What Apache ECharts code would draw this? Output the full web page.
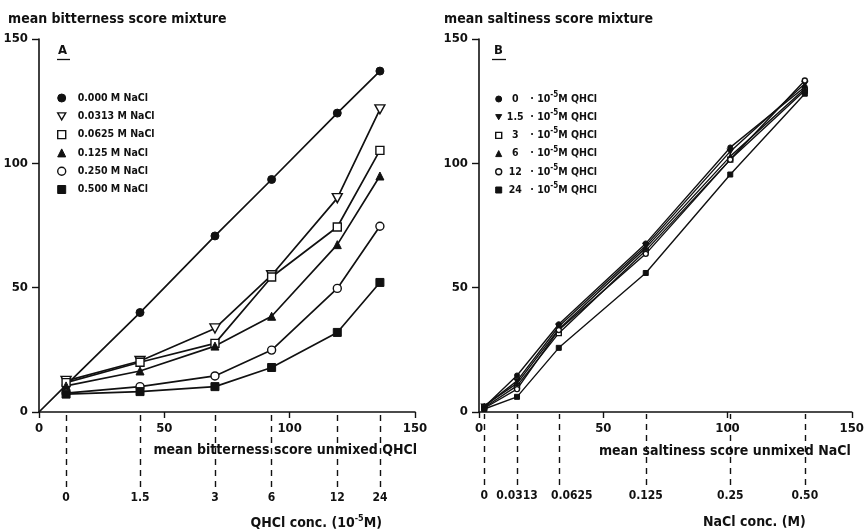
<!DOCTYPE html>
<html>
<head>
<meta charset="utf-8">
<script src="https://cdn.jsdelivr.net/npm/echarts@6/dist/echarts.min.js"></script>
<style>
html, body { margin: 0; padding: 0; background: #fff; }
#chart { width: 867px; height: 531px; }
</style>
</head>
<body>
<div id="chart"></div>
<script>
// ---- Panel A: bitterness of QHCl in NaCl mixtures ----
const qhclConcLabels = ['0', '1.5', '3', '6', '12', '24'];
// mean bitterness score of unmixed QHCl at each concentration (x positions)
const bitterUnmixed = [10.8, 40.3, 70.2, 92.8, 119.0, 136.0];
const bitterNames = ['0.000 M NaCl', '0.0313 M NaCl', '0.0625 M NaCl', '0.125 M NaCl', '0.250 M NaCl', '0.500 M NaCl'];
const bitterNaCl0000 = [10.8, 40.0, 70.8, 93.5, 120.2, 137.1];
const bitterNaCl0313 = [12.5, 20.5, 33.6, 55.0, 86.0, 121.7];
const bitterNaCl0625 = [11.8, 20.0, 27.6, 54.3, 74.4, 105.2];
const bitterNaCl1250 = [10.5, 16.5, 26.5, 38.5, 67.3, 94.9];
const bitterNaCl2500 = [7.6, 10.2, 14.5, 24.9, 49.7, 74.7];
const bitterNaCl5000 = [7.2, 8.2, 10.2, 17.9, 32.0, 52.1];

// ---- Panel B: saltiness of NaCl in QHCl mixtures ----
const naclConcLabels = ['0', '0.0313', '0.0625', '0.125', '0.25', '0.50'];
// mean saltiness score of unmixed NaCl at each concentration (x positions)
const saltUnmixed = [2.1, 15.3, 32.1, 67.1, 101.1, 131.1];
const saltNames = ['0', '1.5', '3', '6', '12', '24'];
const saltQHCl0 = [2.0, 14.7, 35.3, 67.8, 106.4, 130.7];
const saltQHCl15 = [2.2, 12.5, 34.4, 66.9, 104.8, 132.0];
const saltQHCl3 = [1.8, 10.5, 31.7, 64.9, 101.5, 129.3];
const saltQHCl6 = [2.5, 11.5, 33.3, 66.0, 102.8, 130.0];
const saltQHCl12 = [1.5, 9.2, 33.0, 63.6, 101.5, 133.3];
const saltQHCl24 = [1.2, 6.1, 25.8, 55.9, 95.5, 128.0];

const FONT = 'DejaVu Sans Condensed';
const INK = '#111';
const triDown = 'path://M0,0L12,0L6,10.4Z';

const bitterSeriesValues = [bitterNaCl0000, bitterNaCl0313, bitterNaCl0625, bitterNaCl1250, bitterNaCl2500, bitterNaCl5000];
const saltSeriesValues = [saltQHCl0, saltQHCl15, saltQHCl3, saltQHCl6, saltQHCl12, saltQHCl24];

// marker styles: [symbol, filled]
const bitterMarks = [['circle', true], [triDown, false], ['rect', false], ['triangle', true], ['circle', false], ['rect', true]];
const saltMarks = [['circle', true], [triDown, true], ['rect', false], ['triangle', true], ['circle', false], ['rect', true]];

function markStyle(filled) {
  return filled
    ? { color: INK, borderColor: INK, borderWidth: 1 }
    : { color: '#fff', borderColor: INK, borderWidth: 1.4 };
}

function pairs(xs, ys) {
  return ys.map((y, i) => [xs[i], y]);
}

const series = [];
bitterSeriesValues.forEach((vals, i) => {
  let data = pairs(bitterUnmixed, vals);
  if (i === 0) {
    // identity line for the NaCl-free series starts at the origin
    data = [{ value: [0, 0], symbol: 'none' }].concat(data);
  }
  series.push({
    type: 'line', name: bitterNames[i], xAxisIndex: 0, yAxisIndex: 0,
    data: data, symbol: bitterMarks[i][0],
    symbolSize: bitterMarks[i][0] === triDown ? [10, 9] : 8,
    itemStyle: markStyle(bitterMarks[i][1]),
    lineStyle: { color: INK, width: 1.7 },
    z: 3
  });
});
saltSeriesValues.forEach((vals, i) => {
  series.push({
    type: 'line', name: saltNames[i], xAxisIndex: 2, yAxisIndex: 1,
    data: pairs(saltUnmixed, vals), symbol: saltMarks[i][0],
    symbolSize: saltMarks[i][0] === triDown ? [6, 5] : 5,
    itemStyle: markStyle(saltMarks[i][1]),
    lineStyle: { color: INK, width: 1.4 },
    z: 3
  });
});

const tickFont = { fontFamily: FONT, fontSize: 12, fontWeight: 'bold', color: INK };

function mainX(gridIndex) {
  return {
    type: 'value', gridIndex: gridIndex, min: 0, max: 150, interval: 50,
    axisLine: { show: true, lineStyle: { color: INK, width: 1.6 } },
    axisTick: { show: true, length: 6, lineStyle: { color: INK, width: 1.4 } },
    axisLabel: Object.assign({ margin: 10 }, tickFont, { fontSize: 13 }),
    splitLine: { show: false }
  };
}

// an axis that only carries a title line below the main scale
function nameX(gridIndex, nameText, offset, gap) {
  return {
    type: 'value', gridIndex: gridIndex, min: 0, max: 150, position: 'bottom', offset: offset,
    axisLine: { show: false }, axisTick: { show: false }, axisLabel: { show: false },
    splitLine: { show: false },
    name: nameText, nameLocation: 'end', nameGap: gap,
    nameTextStyle: Object.assign({ align: 'right', verticalAlign: 'middle' }, tickFont, { fontSize: 14 })
  };
}

function concX(gridIndex, positions, labels, offset, tickLen, nameRich, nameGap, namePad, shifted) {
  return {
    type: 'value', gridIndex: gridIndex, min: 0, max: 150, position: 'bottom', offset: offset,
    axisLine: { show: false },
    axisTick: { show: true, inside: true, length: tickLen, customValues: positions,
      lineStyle: { color: INK, width: 1.4, type: [6, 5] } },
    axisLabel: Object.assign({ margin: 5, customValues: positions,
      formatter: function (v) {
        const k = positions.indexOf(v);
        if (k < 0) return '';
        return k === shifted ? '{r|' + labels[k] + '}' : labels[k];
      },
      rich: { r: Object.assign({ padding: [0, 0, 0, 26] }, tickFont) } }, tickFont),
    splitLine: { show: false },
    name: nameRich, nameLocation: 'end', nameGap: nameGap,
    nameTextStyle: Object.assign({ align: 'right', verticalAlign: 'middle', padding: [namePad, 0, 0, 0],
      rich: { sup: { fontFamily: FONT, fontSize: 9, fontWeight: 'bold', color: INK, padding: [0, 0, 9, 0] } } }, tickFont, { fontSize: 14 })
  };
}

function mainY(gridIndex) {
  return {
    type: 'value', gridIndex: gridIndex, min: 0, max: 150, interval: 50,
    axisLine: { show: true, lineStyle: { color: INK, width: 1.6 } },
    axisTick: { show: true, length: 7, lineStyle: { color: INK, width: 1.4 } },
    axisLabel: Object.assign({ margin: 11 }, tickFont, { fontSize: 13 }),
    splitLine: { show: false }
  };
}

const legendIcons = (names, marks) => names.map((n, i) => ({
  name: n, icon: marks[i][0], itemStyle: markStyle(marks[i][1])
}));

const option = {
  animation: false,
  backgroundColor: '#fff',
  title: [
    { text: 'mean bitterness score mixture', left: 3, top: 7,
      textStyle: { fontFamily: FONT, fontSize: 14, fontWeight: 'bold', color: INK } },
    { text: 'mean saltiness score mixture', left: 439, top: 7,
      textStyle: { fontFamily: FONT, fontSize: 14, fontWeight: 'bold', color: INK } }
  ],
  grid: [
    { left: 39, top: 39, width: 376, height: 373 },
    { left: 479, top: 39, width: 375, height: 373 }
  ],
  xAxis: [
    mainX(0),
    concX(0, bitterUnmixed, qhclConcLabels, 75, 73, 'QHCl conc. (10{sup|-5}M)', -33, 72, -1),
    mainX(1),
    concX(1, saltUnmixed, naclConcLabels, 73, 71, 'NaCl conc. (M)', -46, 74, 2),
    nameX(0, 'mean bitterness score unmixed QHCl', 38, 2),
    nameX(1, 'mean saltiness score unmixed NaCl', 39, -1)
  ],
  yAxis: [mainY(0), mainY(1)],
  legend: [
    {
      orient: 'vertical', left: 57, top: 92, padding: 0, itemWidth: 8, itemHeight: 8, itemGap: 6.3,
      data: legendIcons(bitterNames, bitterMarks),
      textStyle: { fontFamily: FONT, fontSize: 10.5, fontWeight: 'bold', color: INK, lineHeight: 12, padding: [0, 0, 0, 7] },
      selectedMode: false
    },
    {
      orient: 'vertical', left: 495, top: 91, padding: 0, itemWidth: 6, itemHeight: 6, itemGap: 3.2,
      data: legendIcons(saltNames, saltMarks),
      formatter: function (name) { return '{n|' + name + '}{t|  · 10}{s|-5}{t|M QHCl}'; },
      textStyle: {
        fontFamily: FONT, fontSize: 10.5, fontWeight: 'bold', color: INK, lineHeight: 14,
        rich: {
          n: { fontFamily: FONT, fontSize: 10.5, fontWeight: 'bold', color: INK, width: 17, align: 'right' },
          t: { fontFamily: FONT, fontSize: 10.5, fontWeight: 'bold', color: INK },
          s: { fontFamily: FONT, fontSize: 8, fontWeight: 'bold', color: INK, padding: [0, 0, 8, 0] }
        }
      },
      selectedMode: false
    }
  ],
  graphic: [
    { type: 'text', left: 58, top: 44, style: { text: 'A', font: 'bold 13px "DejaVu Sans Condensed"', fill: INK } },
    { type: 'line', shape: { x1: 57, y1: 59.5, x2: 70, y2: 59.5 }, style: { stroke: INK, lineWidth: 1.3 } },
    { type: 'text', left: 494, top: 44, style: { text: 'B', font: 'bold 13px "DejaVu Sans Condensed"', fill: INK } },
    { type: 'line', shape: { x1: 492, y1: 59.5, x2: 506, y2: 59.5 }, style: { stroke: INK, lineWidth: 1.3 } }
  ],
  series: series
};

const chart = echarts.init(document.getElementById('chart'), null, { renderer: 'canvas' });
chart.setOption(option);
</script>
</body>
</html>
